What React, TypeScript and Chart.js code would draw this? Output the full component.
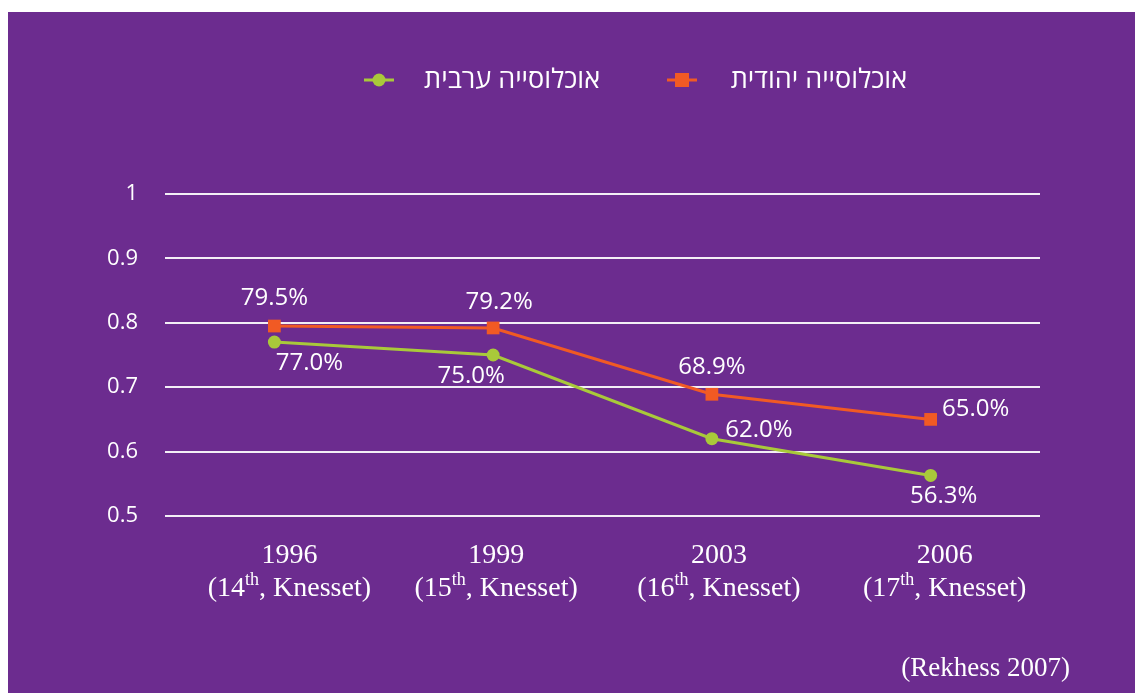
import React, { useEffect, useRef } from "react";
import { Chart, registerables } from "chart.js";

Chart.register(...registerables);

const categories = ["1996", "1999", "2003", "2006"];
const knessetNumbers = ["14", "15", "16", "17"];
const jewishTurnout = [0.795, 0.792, 0.689, 0.65];
const arabTurnout = [0.77, 0.75, 0.62, 0.563];
const jewishLabel = "אוכלוסייה יהודית";
const arabLabel = "אוכלוסייה ערבית";
const sourceText = "(Rekhess 2007)";

// label placement offsets (px) relative to each point
const jewishLabelOffsets = [
  [0, -28],
  [6, -26],
  [0, -27],
  [45, -10],
];
const arabLabelOffsets = [
  [35, 21],
  [-22, 21],
  [47, -9],
  [13, 21],
];
// horizontal nudges of the category labels (px)
const xLabelNudges = [15, 3, 7, 14];

const ORANGE = "#F15A24";
const GREEN = "#A9C93A";
const PURPLE = "#6C2C8F";
const SANS = "'Open Sans', 'DejaVu Sans', sans-serif";
const SERIF = "'Liberation Serif', 'DejaVu Serif', serif";

const decorPlugin = {
  id: "decor",
  afterDraw(chart: any) {
    const ctx = chart.ctx as CanvasRenderingContext2D;
    const xs = chart.scales.x;
    const area = chart.chartArea;
    ctx.save();

    // data labels
    ctx.fillStyle = "#ffffff";
    ctx.font = `24px ${SANS}`;
    ctx.textAlign = "center";
    ctx.textBaseline = "middle";
    const drawLabels = (dsIndex: number, values: number[], offs: number[][]) => {
      const meta = chart.getDatasetMeta(dsIndex);
      meta.data.forEach((pt: any, i: number) => {
        const txt = (values[i] * 100).toFixed(1) + "%";
        ctx.fillText(txt, pt.x + offs[i][0], pt.y + offs[i][1]);
      });
    };
    drawLabels(0, jewishTurnout, jewishLabelOffsets);
    drawLabels(1, arabTurnout, arabLabelOffsets);

    // x labels with superscripts
    const mainFont = `28px ${SERIF}`;
    const supFont = `18px ${SERIF}`;
    categories.forEach((cat, i) => {
      const x = xs.getPixelForValue(i) + xLabelNudges[i];
      ctx.font = mainFont;
      ctx.textAlign = "center";
      ctx.textBaseline = "alphabetic";
      ctx.fillText(cat, x, area.bottom + 47);
      const p1 = "(" + knessetNumbers[i];
      const p2 = "th";
      const p3 = ", Knesset)";
      ctx.font = mainFont;
      const w1 = ctx.measureText(p1).width;
      const w3 = ctx.measureText(p3).width;
      ctx.font = supFont;
      const w2 = ctx.measureText(p2).width;
      const total = w1 + w2 + w3;
      let cx = x - total / 2;
      const base = area.bottom + 80;
      ctx.textAlign = "left";
      ctx.font = mainFont;
      ctx.fillText(p1, cx, base);
      cx += w1;
      ctx.font = supFont;
      ctx.fillText(p2, cx, base - 11);
      cx += w2;
      ctx.font = mainFont;
      ctx.fillText(p3, cx, base);
    });

    // source
    ctx.font = `27px ${SERIF}`;
    ctx.textAlign = "right";
    ctx.textBaseline = "middle";
    ctx.fillText(sourceText, 1062, 657);

    // legend
    const ly = 68;
    ctx.lineWidth = 3;
    ctx.strokeStyle = GREEN;
    ctx.beginPath();
    ctx.moveTo(356, ly);
    ctx.lineTo(386, ly);
    ctx.stroke();
    ctx.fillStyle = GREEN;
    ctx.beginPath();
    ctx.arc(371, ly, 6.5, 0, Math.PI * 2);
    ctx.fill();

    ctx.strokeStyle = ORANGE;
    ctx.beginPath();
    ctx.moveTo(659, ly);
    ctx.lineTo(689, ly);
    ctx.stroke();
    ctx.fillStyle = ORANGE;
    ctx.fillRect(674 - 7, ly - 7, 14, 14);

    ctx.fillStyle = "#ffffff";
    ctx.font = `27px ${SANS}`;
    ctx.textAlign = "right";
    ctx.textBaseline = "middle";
    ctx.fillText(arabLabel, 592, ly);
    ctx.fillText(jewishLabel, 899, ly);

    ctx.restore();
  },
};

export default function App() {
  const canvasRef = useRef<HTMLCanvasElement | null>(null);

  useEffect(() => {
    if (!canvasRef.current) return;
    const chart = new Chart(canvasRef.current, {
      type: "line",
      data: {
        labels: categories,
        datasets: [
          {
            label: jewishLabel,
            data: jewishTurnout,
            borderColor: ORANGE,
            backgroundColor: ORANGE,
            borderWidth: 3,
            pointStyle: "rect",
            pointRadius: 9,
            pointHoverRadius: 9,
            pointBorderWidth: 0,
          },
          {
            label: arabLabel,
            data: arabTurnout,
            borderColor: GREEN,
            backgroundColor: GREEN,
            borderWidth: 3,
            pointStyle: "circle",
            pointRadius: 6.5,
            pointHoverRadius: 6.5,
            pointBorderWidth: 0,
          },
        ],
      },
      options: {
        animation: false,
        responsive: true,
        maintainAspectRatio: false,
        layout: { padding: { top: 182, right: 95, left: 0, bottom: 0 } },
        plugins: {
          legend: { display: false },
          tooltip: { enabled: false },
        },
        scales: {
          x: {
            type: "category",
            offset: true,
            grid: { display: false, drawTicks: false },
            border: { display: false },
            ticks: { display: false },
            afterFit: (scale: any) => {
              scale.height = 177;
            },
          },
          y: {
            min: 0.5,
            max: 1,
            grid: {
              color: "rgba(255,255,255,0.92)",
              lineWidth: 2,
              drawTicks: false,
            },
            border: { display: false },
            ticks: {
              stepSize: 0.1,
              color: "#ffffff",
              padding: 27,
              font: { family: SANS, size: 22 },
              callback: (v: any) => {
                const n = Number(v);
                return Math.abs(n - 1) < 1e-9 ? "1" : n.toFixed(1);
              },
            },
            afterFit: (scale: any) => {
              scale.width = 157;
            },
          },
        },
      },
      plugins: [decorPlugin],
    });
    return () => chart.destroy();
  }, []);

  return (
    <div
      style={{
        position: "fixed",
        left: 8,
        top: 12,
        width: 1127,
        height: 681,
        background: PURPLE,
      }}
    >
      <canvas ref={canvasRef} />
    </div>
  );
}
